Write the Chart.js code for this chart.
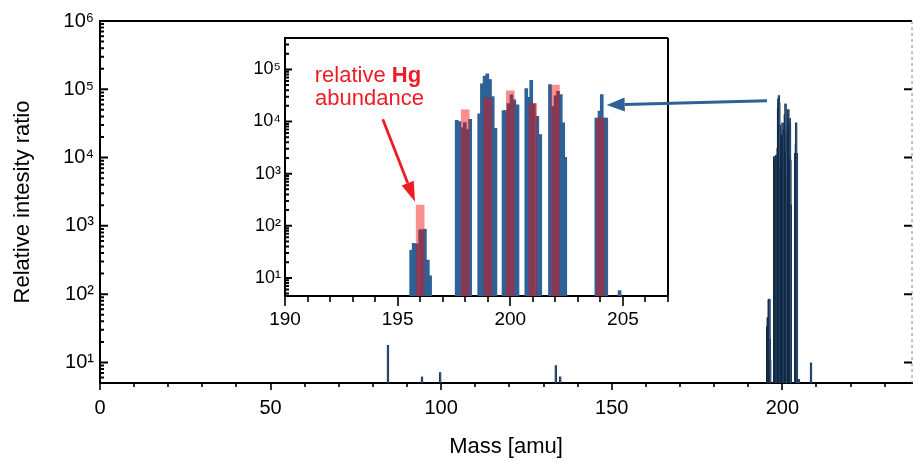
<!DOCTYPE html>
<html>
<head>
<meta charset="utf-8">
<script src="https://cdn.jsdelivr.net/npm/chart.js@4/dist/chart.umd.min.js"></script>
<style>
  html, body { margin: 0; padding: 0; background: #fff; }
  #wrap { position: relative; width: 914px; height: 462px; }
  #main { position: absolute; left: 0; top: 0; }
  #inset { position: absolute; left: 220px; top: 18px; }
</style>
</head>
<body>
<div id="wrap">
  <canvas id="main" width="914" height="462"></canvas>
  <canvas id="inset" width="580" height="312"></canvas>
</div>
<script>
// measured spectrum: mass [amu] and relative intensity ratio
const masses = [84.4, 94.4, 99.7, 133.6, 134.9,
  195.60, 195.71, 195.85, 196.00, 196.10, 196.21, 196.34, 196.44,
  197.62, 197.74, 197.86, 197.98, 198.10, 198.22,
  198.62, 198.74, 198.86, 198.98, 199.10, 199.22, 199.34,
  199.70, 199.80, 199.92, 200.05, 200.18, 200.32,
  200.71, 200.82, 200.93, 201.05, 201.20, 201.33,
  201.76, 201.90, 202.01, 202.12, 202.24, 202.35, 202.44,
  203.82, 203.96, 204.06, 204.18, 204.26,
  204.85, 208.4]
const intensities = [18, 6.2, 7.2, 9.1, 6.2,
  34, 46, 45, 84, 84, 86, 22, 11,
  10500, 10000, 7600, 9500, 7000, 11000,
  14000, 53000, 74000, 82000, 64000, 30000, 7400,
  16300, 16300, 22000, 32600, 26000, 21000,
  43000, 29000, 62000, 22000, 12600, 5600,
  51000, 19500, 31000, 38000, 33000, 9400, 2050,
  11700, 15800, 32700, 11700, 11700,
  5.7, 10]

// natural Hg isotope abundance, scaled
const hgMasses = [196, 198, 199, 200, 201, 202, 204]
const hgAbundance = [250, 16700, 28200, 38700, 22000, 50000, 11700]

const mainXTicks = { min: 0, max: 238, step: 50, minor: 10 }
const insetXTicks = { min: 190, max: 207, step: 5, minor: 1 }

const FONT = "'Liberation Sans', Arial, sans-serif"
const BLUE = '#2e6296'
const RED = '#ee1c25'
Chart.defaults.font.family = FONT
Chart.defaults.color = '#000'

const sup = { 0: '⁰', 1: '¹', 2: '²', 3: '³', 4: '⁴', 5: '⁵', 6: '⁶' }
function isDecade (v) {
  const e = Math.round(Math.log10(v))
  return Math.abs(v - Math.pow(10, e)) < 1e-6 * v
}
function powLabel (v) {
  return isDecade(v) ? '10' + sup[Math.round(Math.log10(v))] : ''
}
// 1..9 x 10^n positions between min and max
function logTickValues (min, max) {
  const out = []
  for (let e = Math.floor(Math.log10(min)); e <= Math.ceil(Math.log10(max)); e++) {
    for (let m = 1; m <= 9; m++) {
      const v = m * Math.pow(10, e)
      if (v >= min * 0.999 && v <= max * 1.001) out.push(v)
    }
  }
  return out
}

// tick marks (inward on y, outward on x) and frame lines
const axisDeco = {
  id: 'axisDeco',
  afterDraw (chart, args, o) {
    const { ctx, chartArea: a, scales: { x, y } } = chart
    ctx.save()
    ctx.strokeStyle = '#000'
    ctx.lineWidth = 2
    ctx.beginPath()
    const yv = logTickValues(y.min, y.max)
    for (const v of yv) {
      const py = y.getPixelForValue(v)
      const dec = isDecade(v)
      ctx.moveTo(a.left, py)
      ctx.lineTo(a.left + (dec ? o.yMajorLen : o.yMinorLen), py)
      if (o.dashedRight && dec) {
        ctx.moveTo(a.right, py)
        ctx.lineTo(a.right - o.yMajorLen, py)
      }
    }
    ctx.stroke()
    ctx.lineWidth = 1.6
    ctx.beginPath()
    for (let v = o.x.min; v <= o.x.max + 1e-9; v += o.x.minor) {
      const px = Math.round(x.getPixelForValue(v))
      const major = Math.abs(v / o.x.step - Math.round(v / o.x.step)) < 1e-6
      ctx.moveTo(px, a.bottom)
      ctx.lineTo(px, a.bottom + (major ? o.xMajorLen : o.xMinorLen))
    }
    ctx.stroke()
    ctx.lineWidth = 2
    ctx.beginPath()
    ctx.moveTo(a.left - 1, a.top); ctx.lineTo(a.right, a.top)
    if (!o.dashedRight) { ctx.moveTo(a.right, a.top); ctx.lineTo(a.right, a.bottom) }
    ctx.stroke()
    if (o.dashedRight) {
      ctx.setLineDash([3, 3])
      ctx.strokeStyle = '#8a8a8a'
      ctx.lineWidth = 1
      ctx.beginPath()
      ctx.moveTo(a.right, a.top); ctx.lineTo(a.right, a.bottom)
      ctx.stroke()
    }
    ctx.restore()
  }
}

function scaleOpts (xr, yMin, yMax, f) {
  return {
    x: {
      type: 'linear', min: xr.min, max: xr.max, offset: false,
      ticks: { stepSize: xr.step, includeBounds: false, autoSkip: false, maxRotation: 0, padding: f.xPad, font: { size: f.xSize } },
      grid: { display: false, drawTicks: false },
      border: { display: true, color: '#000', width: 2 },
      title: f.xTitle ? { display: true, text: f.xTitle, font: { size: 22 }, padding: { top: 0, bottom: 2 } } : { display: false },
      afterFit: s => { s.height = f.xH }
    },
    y: {
      type: 'logarithmic', min: yMin, max: yMax,
      ticks: { callback: powLabel, autoSkip: false, padding: f.yPad, font: { size: f.ySize } },
      grid: { display: false, drawTicks: false },
      border: { display: true, color: '#000', width: 2 },
      title: f.yTitle ? { display: true, text: f.yTitle, font: { size: 22 }, padding: { top: 10, bottom: 0 } } : { display: false },
      afterFit: s => { s.width = f.yW }
    }
  }
}

const spectrum = masses.map((m, i) => ({ x: m, y: intensities[i] }))

const mainChart = new Chart(document.getElementById('main'), {
  type: 'bar',
  data: {
    datasets: [{
      data: spectrum,
      backgroundColor: '#2a5687',
      borderColor: '#0e1a28',
      borderWidth: { left: 0.6, right: 0.6, top: 0, bottom: 0 },
      barThickness: 2,
      grouped: false
    }]
  },
  options: {
    responsive: false,
    animation: false,
    layout: { padding: { left: 0, top: 21, right: 2, bottom: 0 } },
    plugins: {
      legend: { display: false },
      tooltip: { enabled: false },
      axisDeco: { x: mainXTicks, yMajorLen: 8, yMinorLen: 4, xMajorLen: 7, xMinorLen: 4, dashedRight: true }
    },
    scales: scaleOpts(mainXTicks, 5, 1e6, {
      xPad: 13, xSize: 20, xH: 79, xTitle: 'Mass [amu]',
      yPad: 6, ySize: 20, yW: 100, yTitle: 'Relative intesity ratio'
    })
  },
  plugins: [axisDeco]
})

// annotations: inset data units (blue arrow start in main chart units)
const noteLines = [
  { mass: 193.68, value: 57300 },
  { mass: 193.75, value: 20700 }
]
const redArrow = { from: [194.34, 11000], to: [195.77, 290] }
const blueArrow = { from: [195.5, 68000], to: [204.28, 20700] }

function arrow (ctx, x1, y1, x2, y2, color, width, headLen, headHalf) {
  const ang = Math.atan2(y2 - y1, x2 - x1)
  const bx = x2 - headLen * Math.cos(ang)
  const by = y2 - headLen * Math.sin(ang)
  ctx.strokeStyle = color
  ctx.fillStyle = color
  ctx.lineWidth = width
  ctx.beginPath(); ctx.moveTo(x1, y1); ctx.lineTo(bx, by); ctx.stroke()
  ctx.beginPath()
  ctx.moveTo(x2, y2)
  ctx.lineTo(bx + headHalf * Math.sin(ang), by - headHalf * Math.cos(ang))
  ctx.lineTo(bx - headHalf * Math.sin(ang), by + headHalf * Math.cos(ang))
  ctx.closePath(); ctx.fill()
}

const notes = {
  id: 'notes',
  afterDraw (chart) {
    const { ctx, scales: { x, y } } = chart
    const cv = chart.canvas
    ctx.save()
    // "relative Hg abundance"
    ctx.fillStyle = RED
    ctx.textBaseline = 'alphabetic'
    ctx.font = `22px ${FONT}`
    const w1 = ctx.measureText('relative ').width
    ctx.font = `bold 22px ${FONT}`
    const w2 = ctx.measureText('Hg').width
    const cx = x.getPixelForValue(noteLines[0].mass)
    const cy = y.getPixelForValue(noteLines[0].value)
    ctx.font = `22px ${FONT}`
    ctx.textAlign = 'left'
    ctx.fillText('relative ', cx - (w1 + w2) / 2, cy)
    ctx.font = `bold 22px ${FONT}`
    ctx.fillText('Hg', cx - (w1 + w2) / 2 + w1, cy)
    ctx.font = `22px ${FONT}`
    ctx.textAlign = 'center'
    ctx.fillText('abundance', x.getPixelForValue(noteLines[1].mass), y.getPixelForValue(noteLines[1].value))

    arrow(ctx,
      x.getPixelForValue(redArrow.from[0]), y.getPixelForValue(redArrow.from[1]),
      x.getPixelForValue(redArrow.to[0]), y.getPixelForValue(redArrow.to[1]),
      RED, 2.8, 20, 6.5)

    const mx = mainChart.scales.x.getPixelForValue(blueArrow.from[0]) - cv.offsetLeft
    const my = mainChart.scales.y.getPixelForValue(blueArrow.from[1]) - cv.offsetTop
    arrow(ctx, mx, my,
      x.getPixelForValue(blueArrow.to[0]), y.getPixelForValue(blueArrow.to[1]),
      BLUE, 3, 18, 7)
    ctx.restore()
  }
}

const insetChart = new Chart(document.getElementById('inset'), {
  type: 'bar',
  data: {
    datasets: [{
      data: hgMasses.map((m, i) => ({ x: m, y: hgAbundance[i] })),
      backgroundColor: 'rgba(240, 8, 8, 0.46)',
      barThickness: 8,
      grouped: false,
      order: 0
    }, {
      data: spectrum,
      backgroundColor: BLUE,
      barThickness: 3,
      grouped: false,
      order: 1
    }]
  },
  options: {
    responsive: false,
    animation: false,
    layout: { padding: { left: 0, top: 20, right: 132, bottom: 0 } },
    plugins: {
      legend: { display: false },
      tooltip: { enabled: false },
      axisDeco: { x: insetXTicks, yMajorLen: 7, yMinorLen: 4, xMajorLen: 10, xMinorLen: 6, dashedRight: false }
    },
    scales: scaleOpts(insetXTicks, 4.5, 4e5, {
      xPad: 12, xSize: 19, xH: 34,
      yPad: 4, ySize: 18, yW: 65
    })
  },
  plugins: [axisDeco, notes]
})
</script>
</body>
</html>
